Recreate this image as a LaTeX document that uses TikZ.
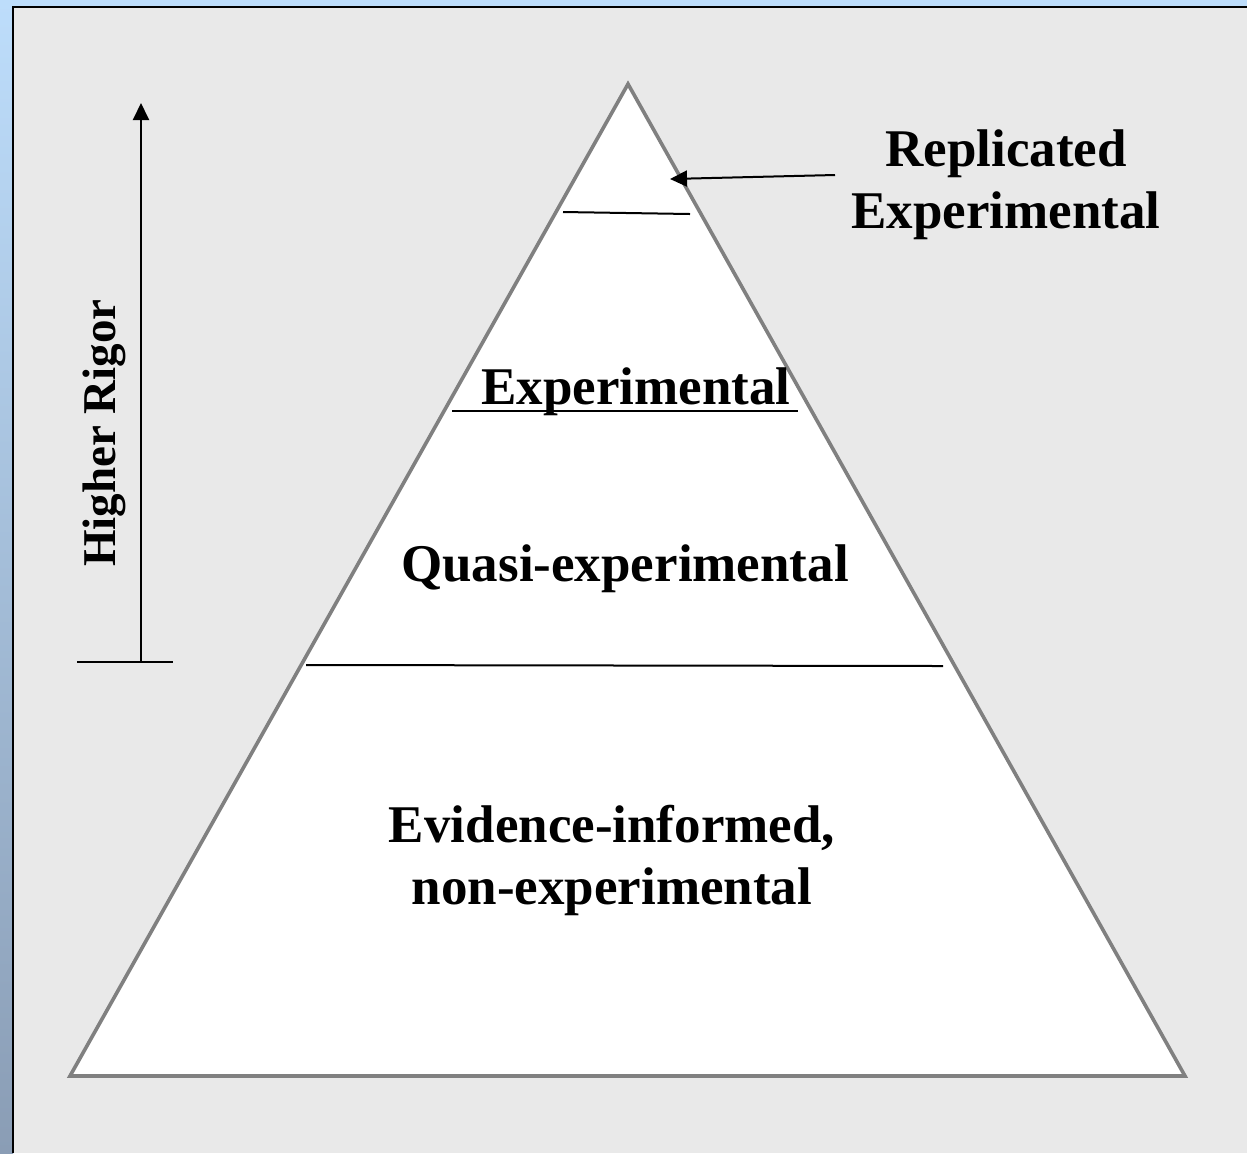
\documentclass[tikz,border=0pt]{standalone}
\usepackage{fontspec}
\setmainfont{Liberation Serif}
\usetikzlibrary{arrows.meta}
\definecolor{panelgray}{HTML}{E9E9E9}
\definecolor{topblue}{HTML}{BDDDFB}
\definecolor{lowblue}{HTML}{8A9DB5}
\definecolor{edgegray}{HTML}{808080}
\tikzset{
	lbl/.style={font=\bfseries\fontsize{26.5}{31}\selectfont,align=center,inner sep=0pt},
	rule/.style={line width=1pt},
	pointer/.style={line width=1pt,-{Triangle[width=8pt,length=8.5pt]}}
}
\begin{document}
\begin{tikzpicture}[x=0.5pt,y=-0.5pt]
		\useasboundingbox (0,0) rectangle (1247,1153);
		% backdrop
		\fill [topblue] (0,0) rectangle (1247,8);
		\shade [top color=topblue,bottom color=lowblue] (0,0) rectangle (13,1153);
		\fill [panelgray] (13,7) rectangle (1247,1153);
		\draw [line width=1pt] (13,1153) -- (13,7) -- (1247,7);
		% pyramid
		\coordinate (T) at (628,84);
		\coordinate (BL) at (70,1076);
		\coordinate (BR) at (1185,1076);
		\draw [fill=white,draw=edgegray,line width=1.8pt,line join=miter] (T) -- (BR) -- (BL) -- cycle;
		\coordinate (R1) at (563,212);
		\coordinate (R2) at (690,214);
		\coordinate (E1) at (452,411);
		\coordinate (E2) at (798,411);
		\coordinate (Q1) at (306,665);
		\coordinate (Q2) at (943,666);
		\draw [rule] (R1) to (R2);
		\draw [rule] (E1) to (E2);
		\draw [rule] (Q1) to (Q2);
		% rigor axis
		\coordinate (G0) at (141,662);
		\coordinate (G1) at (141,103);
		\coordinate (GL) at (77,662);
		\coordinate (GR) at (173,662);
		\draw [rule] (GL) to (GR);
		\draw [pointer] (G0) to (G1);
		\node [lbl,font=\bfseries\fontsize{23.5}{28}\selectfont,rotate=90] (rigor) at (104,433) {Higher Rigor};
		% labels
		\node [lbl,anchor=base] (repl) at (1006,228) {Replicated\\Experimental};
		\node [lbl,anchor=base] (expt) at (636,404) {Experimental};
		\node [lbl,anchor=base] (quasi) at (625,581) {Quasi-experimental};
		\node [lbl,anchor=base] (evid) at (612,904) {Evidence-informed,\\non-experimental};
		\coordinate (A0) at (835,175);
		\coordinate (A1) at (670,179);
		\draw [pointer] (A0) to (A1);
	\end{tikzpicture}
\end{document}
